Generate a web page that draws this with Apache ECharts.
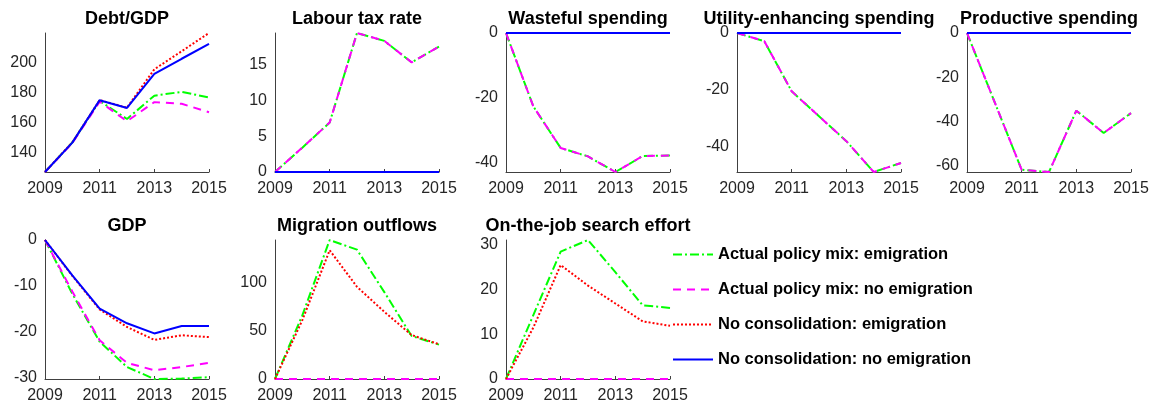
<!DOCTYPE html>
<html>
<head>
<meta charset="utf-8">
<script src="https://cdn.jsdelivr.net/npm/echarts@6/dist/echarts.min.js"></script>
<style>
  html, body { margin: 0; padding: 0; background: #fff; }
  #chart { width: 1160px; height: 408px; }
</style>
</head>
<body>
<div id="chart"></div>
<script>
// x values (years) and shared labels
var years = [2009, 2010, 2011, 2012, 2013, 2014, 2015];
var xTicks = [2009, 2011, 2013, 2015];
var seriesNames = [
  "Actual policy mix: emigration",
  "Actual policy mix: no emigration",
  "No consolidation: emigration",
  "No consolidation: no emigration"
];
var titles = ["Debt/GDP", "Labour tax rate", "Wasteful spending", "Utility-enhancing spending",
  "Productive spending", "GDP", "Migration outflows", "On-the-job search effort"];

// each panel: [act. emigration, act. no emigration, no consol. emigration, no consol. no emigration]
var debtGdp = [
  [127.3, 147, 174.5, 162.5, 178, 180.5, 176.8],
  [127.3, 146.5, 174, 161, 173.7, 172.6, 167],
  [127.3, 147, 175, 170, 195.5, 207.5, 219.6],
  [127.3, 146.8, 175, 169.8, 192.5, 202.5, 212.4]
];
var labourTax = [
  [0, 3.4, 6.9, 19.4, 18.3, 15.3, 17.5],
  [0, 3.4, 6.9, 19.4, 18.3, 15.3, 17.5],
  [0, 0, 0, 0, 0, 0, 0],
  [0, 0, 0, 0, 0, 0, 0]
];
var wasteful = [
  [0, -22.6, -35.4, -38, -42.8, -37.9, -37.7],
  [0, -22.6, -35.4, -38, -42.8, -37.9, -37.7],
  [0, 0, 0, 0, 0, 0, 0],
  [0, 0, 0, 0, 0, 0, 0]
];
var utility = [
  [0, -2.9, -20.6, -29.4, -38.2, -49.1, -45.9],
  [0, -2.9, -20.6, -29.4, -38.2, -49.1, -45.9],
  [0, 0, 0, 0, 0, 0, 0],
  [0, 0, 0, 0, 0, 0, 0]
];
var productive = [
  [0, -31, -62, -63, -35.2, -45.3, -36.3],
  [0, -31, -62, -63, -35.2, -45.3, -36.3],
  [0, 0, 0, 0, 0, 0, 0],
  [0, 0, 0, 0, 0, 0, 0]
];
var gdp = [
  [0, -11.7, -22.1, -27.6, -30.2, -30.1, -29.8],
  [0, -11.2, -21.8, -26.7, -28.3, -27.6, -26.7],
  [0, -7.8, -15.1, -18.9, -21.7, -20.7, -21.1],
  [0, -7.7, -14.9, -18.1, -20.3, -18.7, -18.7]
];
var migration = [
  [0, 66, 144, 134, 90, 44.5, 35.6],
  [0, 0, 0, 0, 0, 0, 0],
  [0, 61, 133.4, 95.5, 69.6, 45.5, 36],
  null
];
var searchEffort = [
  [0, 14.3, 28.5, 31.1, 23.9, 16.5, 15.9],
  [0, 0, 0, 0, 0, 0, 0],
  [0, 11.5, 25.5, 20.9, 16.9, 12.9, 11.9],
  null
];

// y axis limits and tick labels per panel
var yRanges = [[127.3, 219.6], [0, 19.4], [-42.8, 0], [-49.1, 0], [-63, 0], [-30.2, 0], [0, 144], [0, 31.1]];
var yTicks = [
  [140, 160, 180, 200],
  [0, 5, 10, 15],
  [-40, -20, 0],
  [-40, -20, 0],
  [-60, -40, -20, 0],
  [-30, -20, -10, 0],
  [0, 50, 100],
  [0, 10, 20, 30]
];

var panels = [debtGdp, labourTax, wasteful, utility, productive, gdp, migration, searchEffort];

var colors = ["#00ff00", "#ff00ff", "#ff0000", "#0000ff"];
var dashes = [[9, 3, 2, 3], [8, 6], [2, 2], "solid"];

var lefts = [45, 275, 506, 737, 967];
var tops = [33, 240];
var plotW = 164, plotH = 139;
var font = "'Liberation Sans', Arial, sans-serif";

var grids = [], xAxes = [], yAxes = [], series = [], graphics = [];

function tickLabel(list) {
  return function (v) {
    for (var k = 0; k < list.length; k++) {
      if (Math.abs(v - list[k]) < 1e-6) return String(list[k]);
    }
    return "";
  };
}

panels.forEach(function (panel, i) {
  var col = i % 5, row = Math.floor(i / 5);
  var step = yTicks[i][1] - yTicks[i][0];
  grids.push({ left: lefts[col], top: tops[row], width: plotW, height: plotH });
  xAxes.push({
    type: "value", gridIndex: i, min: 2009, max: 2015, interval: 2,
    axisLine: { show: true, onZero: false, lineStyle: { color: "#404040", width: 1 } },
    axisTick: { show: true, inside: true, length: 3, lineStyle: { color: "#404040" } },
    axisLabel: { color: "#262626", fontSize: 16, fontFamily: font, margin: 9, formatter: tickLabel(xTicks) },
    splitLine: { show: false }
  });
  yAxes.push({
    type: "value", gridIndex: i, min: yRanges[i][0], max: yRanges[i][1],
    minInterval: step, maxInterval: step,
    axisLine: { show: true, onZero: false, lineStyle: { color: "#404040", width: 1 } },
    axisTick: { show: false },
    axisLabel: {
      color: "#262626", fontSize: 16, fontFamily: font, margin: 8,
      showMinLabel: true, showMaxLabel: true,
      formatter: tickLabel(yTicks[i])
    },
    splitLine: { show: false }
  });
  panel.forEach(function (vals, s) {
    if (!vals) return;
    series.push({
      name: seriesNames[s], type: "line", xAxisIndex: i, yAxisIndex: i,
      data: years.map(function (y, k) { return [y, vals[k]]; }),
      symbol: "none", showSymbol: false, clip: false,
      lineStyle: { color: colors[s], width: 2, type: dashes[s] },
      itemStyle: { color: colors[s] },
      z: 2 + s
    });
  });
  graphics.push({
    type: "text", x: lefts[col] + plotW / 2, y: row === 0 ? 19 : 226,
    style: { text: titles[i], fill: "#000", font: "bold 18px " + font, textAlign: "center", textVerticalAlign: "middle" }
  });
});

var chart = echarts.init(document.getElementById("chart"));
chart.setOption({
  animation: false,
  grid: grids,
  xAxis: xAxes,
  yAxis: yAxes,
  series: series,
  graphic: graphics,
  legend: {
    data: seriesNames, orient: "vertical", left: 667, top: 241,
    itemWidth: 40, itemHeight: 14, itemGap: 18, itemTextGap: 4, selectedMode: false,
    itemStyle: { opacity: 0 },
    textStyle: { color: "#000", fontSize: 16.5, fontWeight: "bold", fontFamily: font }
  }
});
</script>
</body>
</html>
